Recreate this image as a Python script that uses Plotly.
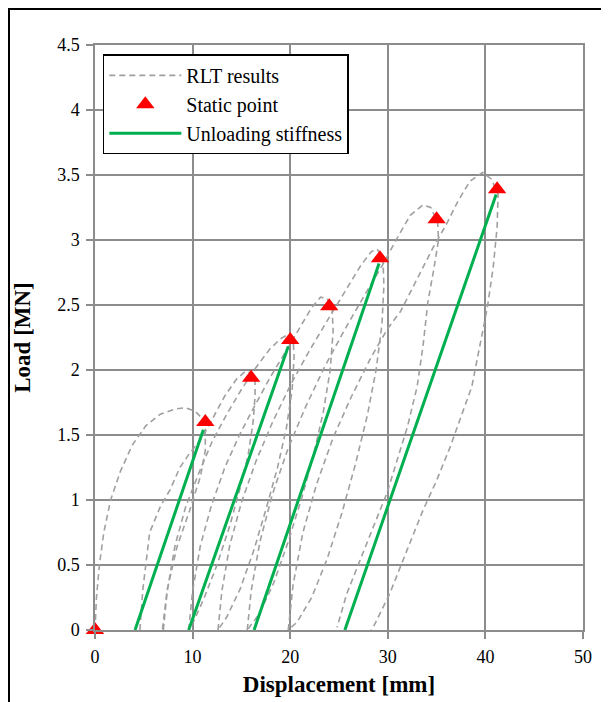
import plotly.graph_objects as go

# ---- data ----
# RLT results: hysteresis loops, each loop = loading + unloading (None separates loops)
rlt_loop1_x = [0, 0.15, 0.45, 0.9, 1.6, 2.6, 3.8, 5.2, 6.7, 8.2, 9.3, 10.3, 11.1, 11.3, 11.3, 10.8, 9.7, 8.4, 7.4, 7.0, 6.9]
rlt_loop1_y = [0, 0.25, 0.5, 0.75, 1.0, 1.22, 1.42, 1.57, 1.66, 1.70, 1.71, 1.68, 1.62, 1.55, 1.38, 1.18, 0.92, 0.64, 0.31, 0.05, 0]
rlt_loop2_x = [4.6, 4.9, 5.6, 6.7, 7.7, 8.7, 9.7, 10.8, 12.0, 13.3, 14.5, 15.4, 16.0, 16.4, 16.4, 16.2, 15.7, 14.9, 13.8, 12.5, 11.2, 10.2, 9.6]
rlt_loop2_y = [0, 0.31, 0.75, 0.95, 1.08, 1.25, 1.36, 1.46, 1.62, 1.80, 1.93, 1.99, 1.98, 1.92, 1.8, 1.6, 1.35, 1.1, 0.8, 0.5, 0.25, 0.08, 0]
rlt_loop3_x = [7.0, 7.4, 8.2, 9.3, 10.6, 12.0, 13.5, 15.0, 16.5, 17.9, 19.0, 19.7, 20.3, 20.4, 20.2, 19.6, 18.7, 17.6, 16.3, 14.9, 13.5, 12.6]
rlt_loop3_y = [0, 0.3, 0.65, 0.95, 1.2, 1.45, 1.66, 1.85, 2.02, 2.16, 2.24, 2.27, 2.24, 2.1, 1.85, 1.55, 1.25, 0.95, 0.62, 0.32, 0.1, 0]
rlt_loop4_x = [9.6, 10.0, 10.8, 11.9, 13.3, 14.8, 16.4, 18.0, 19.6, 21.0, 22.2, 23.1, 23.8, 24.3, 24.4, 24.1, 23.4, 22.4, 21.2, 19.8, 18.3, 16.8, 15.6]
rlt_loop4_y = [0, 0.3, 0.65, 0.95, 1.25, 1.5, 1.73, 1.95, 2.15, 2.33, 2.48, 2.56, 2.55, 2.46, 2.3, 2.0, 1.68, 1.35, 1.02, 0.68, 0.36, 0.12, 0]
rlt_loop5_x = [12.6, 13.0, 13.8, 15.0, 16.5, 18.2, 20.0, 21.9, 23.8, 25.6, 27.2, 28.3, 28.9, 29.5, 29.6, 29.4, 28.8, 27.9, 26.7, 25.3, 23.8, 22.2, 20.7, 19.8]
rlt_loop5_y = [0, 0.3, 0.65, 0.98, 1.3, 1.6, 1.88, 2.14, 2.38, 2.6, 2.8, 2.91, 2.93, 2.86, 2.65, 2.35, 2.0, 1.65, 1.28, 0.9, 0.55, 0.25, 0.06, 0]
rlt_loop6_x = [15.6, 16.0, 16.9, 18.2, 19.8, 21.6, 23.5, 25.5, 27.5, 29.4, 31.0, 32.3, 33.6, 34.4, 35.1, 35.2, 34.7, 34.1, 33.6, 33.0, 32.0, 31.0, 29.9, 28.5, 27.2, 25.8, 24.8]
rlt_loop6_y = [0, 0.3, 0.68, 1.05, 1.4, 1.72, 2.02, 2.3, 2.56, 2.8, 3.02, 3.19, 3.27, 3.25, 3.14, 3.0, 2.77, 2.52, 2.18, 1.87, 1.56, 1.31, 1.05, 0.79, 0.54, 0.28, 0.02]
rlt_loop7_x = [19.8, 20.3, 21.3, 22.7, 24.4, 26.3, 28.3, 30.0, 31.3, 32.6, 34.7, 36.0, 37.2, 38.4, 39.7, 40.6, 41.3, 41.2, 40.8, 40.2, 39.4, 38.6, 37.4, 36.4, 35.0, 33.6, 32.0, 30.2, 28.5, 28.3]
rlt_loop7_y = [0, 0.35, 0.75, 1.12, 1.48, 1.8, 2.1, 2.32, 2.45, 2.64, 2.95, 3.12, 3.3, 3.45, 3.52, 3.47, 3.35, 3.1, 2.79, 2.48, 2.18, 1.87, 1.62, 1.41, 1.15, 0.92, 0.62, 0.28, 0.02, 0]

# Static points
static_x = [0, 11.3, 16.0, 20.0, 24.0, 29.2, 35.0, 41.2]
static_y = [0, 1.60, 1.94, 2.23, 2.49, 2.86, 3.16, 3.39]

# Unloading stiffness lines (start at zero load, end near a static point)
stiff_x0 = [4.1, 9.6, 16.3, 25.6]
stiff_x1 = [11.1, 19.8, 29.1, 41.1]
stiff_y1 = [1.54, 2.18, 2.82, 3.35]

x_ticks = [0, 10, 20, 30, 40, 50]
y_ticks = [0, 0.5, 1, 1.5, 2, 2.5, 3, 3.5, 4, 4.5]

# ---- assemble traces ----
loops = [(rlt_loop1_x, rlt_loop1_y), (rlt_loop2_x, rlt_loop2_y), (rlt_loop3_x, rlt_loop3_y),
         (rlt_loop4_x, rlt_loop4_y), (rlt_loop5_x, rlt_loop5_y), (rlt_loop6_x, rlt_loop6_y),
         (rlt_loop7_x, rlt_loop7_y)]
rx, ry = [], []
for lx, ly in loops:
    rx += lx + [None]
    ry += ly + [None]

sx, sy = [], []
for a, b, c in zip(stiff_x0, stiff_x1, stiff_y1):
    sx += [a, b, None]
    sy += [0, c, None]

SERIF = "Liberation Serif"
GRID = "#8c8c8c"

W, H = 601, 694
ML, MR, MT, MB = 87, 26, 37, 72
PW, PH = W - ML - MR, H - MT - MB

fig = go.Figure()
fig.add_trace(go.Scatter(x=rx, y=ry, mode="lines", name="RLT results",
                         line=dict(color="#a0a0a0", width=1.6, dash="6px,4px")))
fig.add_trace(go.Scatter(x=static_x, y=static_y, mode="markers", name="Static point",
                         marker=dict(symbol="triangle-up", color="#ff0000", size=16),
                         cliponaxis=False))
fig.add_trace(go.Scatter(x=sx, y=sy, mode="lines", name="Unloading stiffness",
                         line=dict(color="#00b050", width=3)))

fig.update_layout(
    width=W, height=H,
    margin=dict(l=ML, r=MR, t=MT, b=MB, autoexpand=False),
    paper_bgcolor="white", plot_bgcolor="white",
    font=dict(family=SERIF, color="black", size=18),
    showlegend=True,
    legend=dict(x=0.016, y=0.984, xanchor="left", yanchor="top",
                bgcolor="white", bordercolor="black", borderwidth=1.5,
                font=dict(family=SERIF, size=20, color="black"),
                itemwidth=72, tracegroupgap=0),
    xaxis=dict(range=[0, 50], tickvals=x_ticks, showgrid=True, gridcolor=GRID, gridwidth=1.5,
               showline=True, linecolor=GRID, linewidth=1.5, mirror=True, zeroline=False,
               ticks="outside", ticklen=7, tickcolor=GRID, tickwidth=1.5,
               ticklabelstandoff=3, automargin=False,
               tickfont=dict(family=SERIF, size=18),
               title=dict(text="<b>Displacement [mm]</b>", font=dict(family=SERIF, size=23), standoff=10)),
    yaxis=dict(range=[0, 4.5], tickvals=y_ticks, showgrid=True, gridcolor=GRID, gridwidth=1.5,
               showline=True, linecolor=GRID, linewidth=1.5, mirror=True, zeroline=False,
               ticks="outside", ticklen=7, tickcolor=GRID, tickwidth=1.5,
               ticklabelstandoff=3, automargin=False,
               tickfont=dict(family=SERIF, size=18),
               title=dict(text="<b>Load [MN]</b>", font=dict(family=SERIF, size=23), standoff=20)),
    shapes=[dict(type="rect", xref="paper", yref="paper",
                 x0=(0.5 - ML) / PW, x1=1.3, y0=-0.3, y1=(PH + MT - 0.5) / PH,
                 line=dict(color="black", width=3), fillcolor="rgba(0,0,0,0)", layer="above")],
)

fig.write_html("out.html")
